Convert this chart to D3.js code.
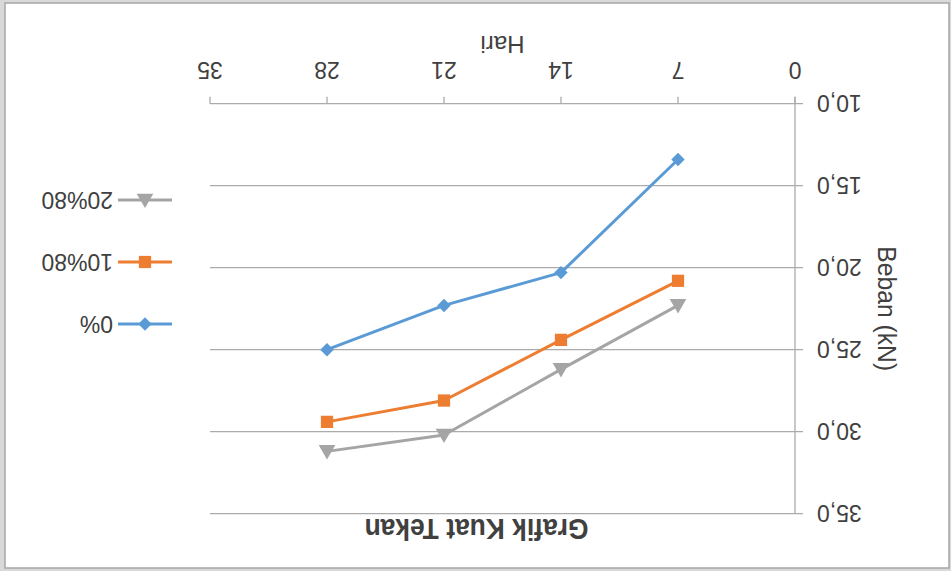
<!DOCTYPE html>
<html>
<head>
<meta charset="utf-8">
<script src="https://cdn.jsdelivr.net/npm/d3@7"></script>
<style>
  html, body { margin: 0; padding: 0; background: #fff; }
  svg { display: block; }
  text { font-family: "Liberation Sans", Arial, sans-serif; fill: #404040; }
</style>
</head>
<body>
<svg id="chart" width="951" height="571"></svg>
<script>
const days = [7, 14, 21, 28];
const seriesNames = ["0%", "10%80", "20%80"];
const values0 = [13.4, 20.3, 22.3, 25.0];
const values10 = [20.8, 24.4, 28.1, 29.4];
const values20 = [22.3, 26.2, 30.2, 31.2];
const xTicks = [0, 7, 14, 21, 28, 35];
const yTicks = [10, 15, 20, 25, 30, 35];
const colors = ["#5B9BD5", "#ED7D31", "#A5A5A5"];
const titleText = "Grafik Kuat Tekan";
const xTitle = "Hari";
const yTitle = "Beban (kN)";

const W = 951, H = 571;
const svg = d3.select("#chart");
svg.append("rect").attr("width", W).attr("height", H).attr("fill", "#d9d9d9");

// The reference is shown rotated by 180 degrees
const root = svg.append("g").attr("transform", `rotate(180 ${W / 2} ${H / 2})`);

root.append("rect").attr("x", 2).attr("y", 3).attr("width", 944).attr("height", 565)
  .attr("fill", "#fff").attr("stroke", "#a6a6a6").attr("stroke-width", 1.5);

const x = d3.scaleLinear().domain([0, 35]).range([156, 741]);
const y = d3.scaleLinear().domain([10, 35]).range([467.3, 57.3]);
const gridColor = "#ababab";

root.append("g").selectAll("line").data(yTicks).join("line")
  .attr("x1", x(0) - 8).attr("x2", x(35))
  .attr("y1", d => y(d)).attr("y2", d => y(d))
  .attr("stroke", gridColor).attr("stroke-width", 1.3);

root.append("line").attr("x1", x(0)).attr("x2", x(0)).attr("y1", y(35)).attr("y2", y(10) + 7)
  .attr("stroke", gridColor).attr("stroke-width", 1.3);

root.append("g").selectAll("line").data(xTicks).join("line")
  .attr("x1", d => x(d)).attr("x2", d => x(d))
  .attr("y1", y(10)).attr("y2", y(10) + 7)
  .attr("stroke", gridColor).attr("stroke-width", 1.3);

const fmt = d => d3.format(".1f")(d).replace(".", ",");
root.append("g").selectAll("text").data(yTicks).join("text")
  .attr("x", 134).attr("y", d => y(d)).attr("dy", "0.36em")
  .attr("text-anchor", "end").attr("font-size", 23).text(fmt);

root.append("g").selectAll("text").data(xTicks).join("text")
  .attr("x", d => x(d)).attr("y", 501).attr("dy", "0.36em")
  .attr("text-anchor", "middle").attr("font-size", 23).text(d => d);

root.append("text").attr("x", (x(0) + x(35)) / 2).attr("y", 526).attr("dy", "0.36em")
  .attr("text-anchor", "middle").attr("font-size", 24).text(xTitle);

root.append("text").attr("transform", `translate(64 ${(y(10) + y(35)) / 2}) rotate(-90) scale(0.95 1)`)
  .attr("dy", "0.36em").attr("text-anchor", "middle").attr("font-size", 26).text(yTitle);

root.append("text").attr("transform", `translate(474.5 41) scale(0.88 1)`).attr("dy", "0.36em")
  .attr("text-anchor", "middle").attr("font-size", 30).attr("font-weight", "bold").text(titleText);

const allSeries = [values0, values10, values20];
const line = d3.line().x((d, i) => x(days[i])).y(d => y(d));
const symbols = [
  {type: d3.symbolSquare, size: 90, rot: 45, dy: 0},
  {type: d3.symbolSquare, size: 150, rot: 0, dy: 0},
  {type: d3.symbolTriangle, size: 120, rot: 0, dy: 1.5}
];

allSeries.forEach((vals, s) => {
  root.append("path").datum(vals).attr("d", line)
    .attr("fill", "none").attr("stroke", colors[s]).attr("stroke-width", 3)
    .attr("stroke-linejoin", "round");
  const m = symbols[s];
  const sym = d3.symbol().type(m.type).size(m.size);
  root.append("g").selectAll("path").data(vals).join("path")
    .attr("d", sym)
    .attr("transform", (d, i) => `translate(${x(days[i])},${y(d) + m.dy}) rotate(${m.rot})`)
    .attr("fill", colors[s]);
});

const legendY = [247, 309, 371];
seriesNames.forEach((name, s) => {
  const g = root.append("g");
  g.append("line").attr("x1", 779).attr("x2", 833).attr("y1", legendY[s]).attr("y2", legendY[s])
    .attr("stroke", colors[s]).attr("stroke-width", 3);
  const m = symbols[s];
  g.append("path").attr("d", d3.symbol().type(m.type).size(m.size))
    .attr("transform", `translate(806,${legendY[s] + m.dy}) rotate(${m.rot})`).attr("fill", colors[s]);
  g.append("text").attr("x", 838).attr("y", legendY[s]).attr("dy", "0.36em")
    .attr("font-size", 23).text(name);
});
</script>
</body>
</html>
